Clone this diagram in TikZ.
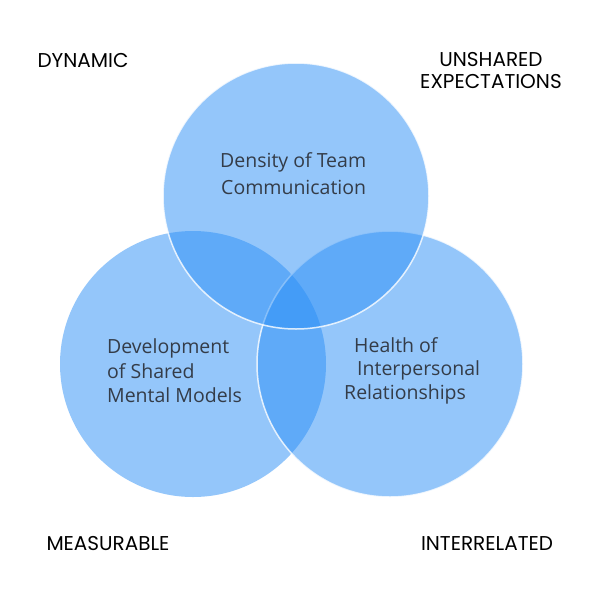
\documentclass[tikz,border=0pt]{standalone}
\usepackage{fontspec}
\setmainfont{Open Sans}
\newfontfamily\labelfont{Poppins}
\definecolor{venn}{RGB}{43,143,247}
\definecolor{innertext}{RGB}{52,60,72}
\tikzset{
  vennfill/.style={fill=venn, fill opacity=0.5},
  vennedge/.style={draw=white, line width=1.5pt, draw opacity=0.8},
  inner/.style={text=innertext, font=\fontsize{19.5}{22}\selectfont, anchor=west, inner sep=0pt},
  corner/.style={text=black, font=\labelfont\fontsize{20}{22}\selectfont, align=center, inner sep=0pt}
}
\begin{document}
\begin{tikzpicture}[x=1pt,y=-1pt]
\useasboundingbox (0,0) rectangle (600,600);
\fill[white] (0,0) rectangle (600,600);
\path[vennfill] (193,364) circle (133);
\path[vennfill] (390,364) circle (133);
\draw[vennedge] (390,364) circle (133);
\path[vennfill] (296,196) circle (133);
\draw[vennedge] (296,196) circle (133);
\node[inner] (d1) at (220,162) {Density of Team};
\node[inner] (d2) at (221,187) {Communication};
\node[inner] (l1) at (107,348) {Development};
\node[inner] (l2) at (107,371) {of Shared};
\node[inner] (l3) at (107,395) {Mental Models};
\node[inner] (r1) at (354,345) {Health of};
\node[inner] (r2) at (357,370) {Interpersonal};
\node[inner] (r3) at (344,394) {Relationships};
\node[corner] (dyn) at (83,60) {DYNAMIC};
\node[corner] (uns) at (491,71) {UNSHARED\\EXPECTATIONS};
\node[corner] (mea) at (108,544) {MEASURABLE};
\node[corner] (int) at (487,544) {INTERRELATED};
\end{tikzpicture}
\end{document}
